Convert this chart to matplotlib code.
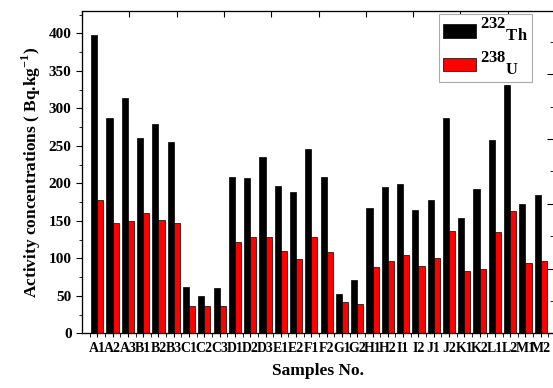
import matplotlib
matplotlib.use('Agg')
import matplotlib.pyplot as plt
import matplotlib._mathtext as mathtext_internal
import numpy as np

samples = ['A1', 'A2', 'A3', 'B1', 'B2', 'B3', 'C1', 'C2', 'C3', 'D1',
           'D2', 'D3', 'E1', 'E2', 'F1', 'F2', 'G1', 'G2', 'H1', 'H2',
           'I1', 'I2', 'J1', 'J2', 'K1', 'K2', 'L1', 'L2', 'M1', 'M2']
th232 = [398, 287, 314, 260, 279, 255, 62, 50, 61, 208,
         207, 235, 196, 189, 246, 208, 52, 71, 167, 195,
         199, 164, 178, 287, 154, 192, 258, 331, 173, 185]
u238 = [178, 147, 150, 161, 151, 147, 37, 36, 36, 122,
        128, 128, 110, 99, 128, 108, 42, 39, 88, 97,
        104, 90, 101, 137, 83, 86, 135, 163, 94, 96]

plt.rcParams['font.family'] = ['Liberation Serif', 'DejaVu Serif']
plt.rcParams['font.weight'] = 'bold'
plt.rcParams['mathtext.fontset'] = 'custom'
plt.rcParams['mathtext.rm'] = 'Liberation Serif:bold'
plt.rcParams['mathtext.bf'] = 'Liberation Serif:bold'
# smaller drop for the subscripts so "Th" sits just under the mass number
mathtext_internal.FontConstantsBase.subdrop = 0.1
mathtext_internal.FontConstantsBase.sub1 = 0.1

fig = plt.figure(figsize=(5.53, 3.88), dpi=100)
ax = fig.add_axes([82 / 553, (388 - 333.3) / 388, 471 / 553, 322.3 / 388])

x = np.arange(len(samples))
w = 0.4
ax.bar(x - w / 2, th232, w, color='black', edgecolor='black', linewidth=0.5,
       label=r'$^{232}{}_{\mathrm{Th}}$')
ax.bar(x + w / 2, u238, w, color='red', edgecolor='black', linewidth=0.5,
       label=r'$^{238}{}_{\mathrm{U}}$')

ax.set_xlim(-1, 29.8)
ax.set_ylim(0, 429.7)
ax.set_yticks(np.arange(0, 401, 50))
ax.set_yticks(np.arange(0, 426, 25), minor=True)
ax.set_xticks(x)
ax.set_xticklabels(samples, fontsize=10, fontweight='bold')
ax.set_xticks(np.arange(-0.5, 29.6, 1), minor=True)
ax.tick_params(axis='y', labelsize=11, direction='out', length=4)
ax.tick_params(axis='y', which='minor', direction='out', length=2.5)
ax.tick_params(axis='x', direction='out', length=3, pad=3)
ax.tick_params(axis='x', which='minor', direction='out', length=3)
for lab in ax.get_yticklabels():
    lab.set_fontweight('bold')

ax.spines['right'].set_visible(False)
ax.set_xlabel('Samples No.', fontsize=12.5, fontweight='bold', labelpad=6)
ax.set_ylabel(r'Activity concentrations ( Bq.kg$^{-1}$)', fontsize=12.5,
              fontweight='bold', labelpad=4)

# frame ticks on top and right (separate scales)
top = ax.twiny()
top.set_xlim(0, 471 / 47.3)
top.set_xticks(np.arange(0, 10))
top.tick_params(axis='x', direction='in', length=4, labeltop=False)
right = ax.twinx()
right.set_ylim(0, 322.3 / 32.4)
right.set_yticks(np.arange(0, 10, 2))
right.set_yticks(np.arange(1, 10, 2), minor=True)
right.tick_params(axis='y', which='major', direction='in', length=4, labelright=False)
right.tick_params(axis='y', which='minor', direction='in', length=2)
for a in (top, right):
    a.spines['right'].set_visible(False)

leg = right.legend(*ax.get_legend_handles_labels(), loc='upper left',
                   bbox_to_anchor=(439 / 553, 1 - 14 / 388),
                   bbox_transform=fig.transFigure, fontsize=17, frameon=True,
                   fancybox=False, edgecolor='#aaaaaa', framealpha=1,
                   handlelength=1.4, handleheight=0.5, handletextpad=0.2,
                   borderpad=0.15, borderaxespad=0, labelspacing=0.3)
leg.get_frame().set_linewidth(0.8)

fig.savefig('out.png', dpi=100)
